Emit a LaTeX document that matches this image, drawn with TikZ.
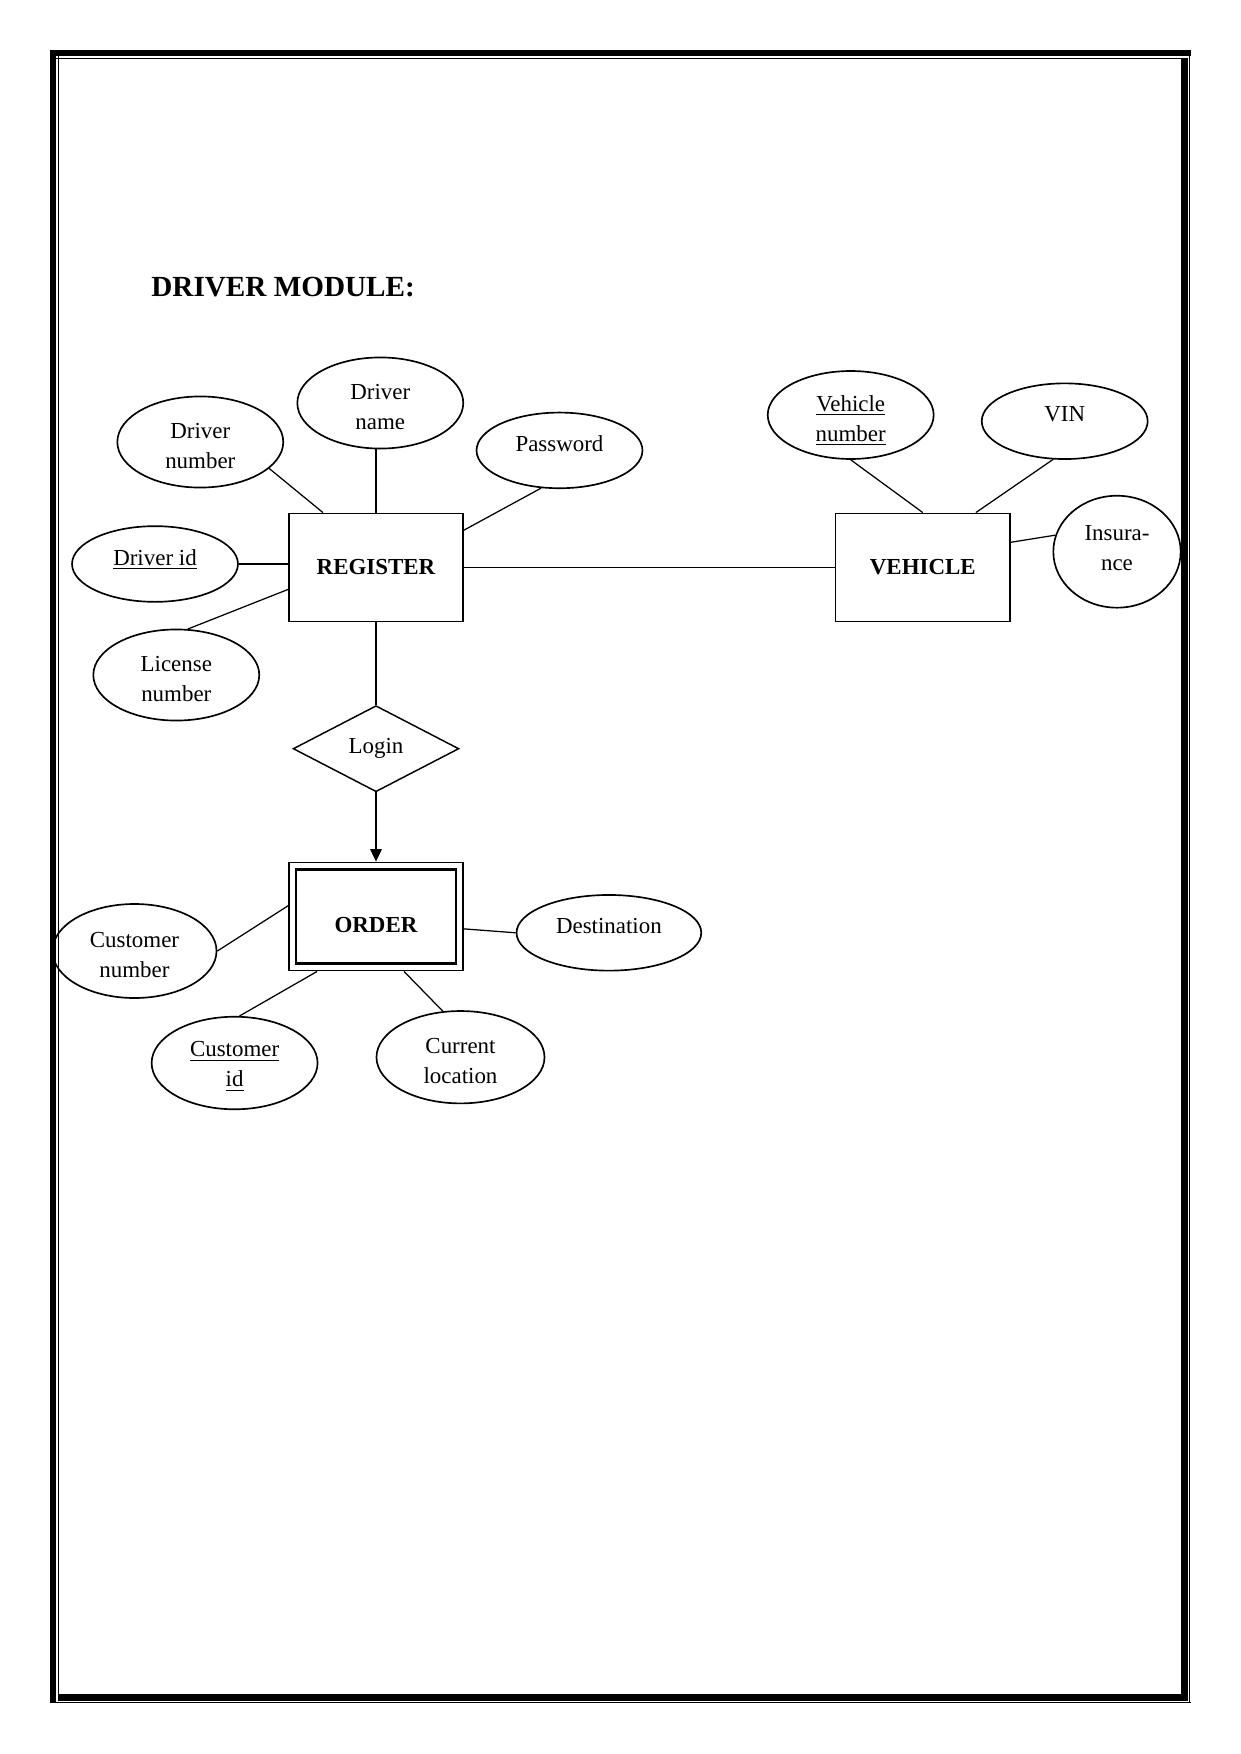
\documentclass[tikz,border=0pt]{standalone}
\usepackage{fontspec}
\setmainfont{Liberation Serif}
\usetikzlibrary{arrows.meta, shapes.geometric}
\tikzset{
	erent/.style={draw, line width=0.7pt, minimum width=83.6pt, minimum height=52pt,
		inner sep=0pt, font=\fontsize{11}{14.4}\selectfont\bfseries},
	erell/.style={draw, ellipse, line width=0.8pt, minimum width=79.6pt, minimum height=43.7pt,
		inner sep=0pt, align=center, font=\fontsize{11}{14.4}\selectfont},
	erattr/.style={erell, execute at begin node={\rule{0pt}{25.1pt}}},
	erattrs/.style={erell, minimum height=36.3pt, execute at begin node={\rule[-6.5pt]{0pt}{6.5pt}}},
	errel/.style={draw, diamond, line width=0.7pt, minimum width=79.5pt, minimum height=41.3pt,
		inner sep=0pt, font=\fontsize{11}{14.4}\selectfont},
	erline/.style={line width=0.6pt},
	erarr/.style={-{Triangle[length=6pt, width=5.6pt]}, line width=0.7pt}
}

\begin{document}
\begin{tikzpicture}[x=0.4797pt, y=-0.4797pt]
	\useasboundingbox (0,0) rectangle (1241,1754);
	\node[anchor=base west, inner sep=0pt, font=\fontsize{14}{17}\selectfont\bfseries] (title) at (151,296) {DRIVER MODULE:};

	% entities and relationship
	\node[erent] (register) at (376,567.5) {REGISTER};
	\node[erent] (vehicle) at (922.8,567.5) {VEHICLE};
	\node[errel] (login) at (376,748.7) {Login};
	\node[erent, execute at begin node={\rule{0pt}{15pt}}] (order) at (376,916.5) {ORDER};
	\draw[line width=1pt] ([shift={(3.8pt,-3.8pt)}]order.north west) rectangle ([shift={(-3.8pt,3.8pt)}]order.south east);

	% attributes
	\node[erattr] (dnum) at (200.3,442) {Driver\\number};
	\node[erattr] (dname) at (380.3,403) {Driver\\name};
	\node[erattrs] (did) at (155,564) {\underline{Driver id}};
	\node[erattr] (lic) at (176.3,675) {License\\number};
	\node[erattrs] (pwd) at (559.5,450.4) {Password};
	\node[erell, minimum height=42.2pt, execute at begin node={\rule{0pt}{27.3pt}}] (vnum) at (850.7,415) {\underline{Vehicle}\\\underline{number}};
	\node[erattrs] (vin) at (1064.7,421.2) {VIN};
	\node[erell, minimum width=61.1pt, minimum height=53.7pt,
		execute at begin node={\rule[-3.2pt]{0pt}{3.2pt}}] (ins) at (1117,551.7) {Insura-\\nce};
	\node[erattr, minimum width=78.7pt, minimum height=45.1pt] (cnum) at (134.5,951) {Customer\\number};
	\node[erattr, minimum height=44.4pt] (cid) at (234.6,1063) {\underline{Customer}\\\underline{id}};
	\node[erattr, minimum width=80.6pt, minimum height=44.3pt] (cloc) at (460.5,1057.2) {Current\\location};
	\node[erattrs, minimum width=88.6pt] (dest) at (608.9,932.8) {Destination};

	% connectors
	\draw[erline] (dnum.-21) -- (register.134);
	\draw[erline] (dname.south -| register.north) -- (register.north);
	\draw[erline, line width=0.9pt] (did.east) -- (did.east -| register.west);
	\draw[erline] (lic.76) -- (register.194);
	\draw[erline] (pwd.244) -- (register.23);
	\draw[erline, line width=0.9pt] (register.east) -- (vehicle.west);
	\draw[erline] (register.south) -- (login.north);
	\draw[erarr] (login.south) -- (order.north);
	\draw[erline] (vnum.south) -- (vehicle.north);
	\draw[erline] (vin.253) -- (vehicle.46);
	\draw[erline] (ins.165) -- (vehicle.16);
	\draw[erline] (cnum.east) -- (order.173);
	\draw[erline] (cid.84) -- (order.223);
	\draw[erline] (cloc.111) -- (order.-63);
	\draw[erline] (dest.west) -- (order.-8);

	% page border
	\fill (50,50) rectangle (1190.7,56);
	\fill (50,50) rectangle (56,1703.3);
	\fill (1181,58.3) rectangle (1187.7,1700.7);
	\fill (58.3,1694.3) rectangle (1187.7,1700.7);
	\draw[line width=0.5pt] (56,58.3) -- (1181,58.3);
	\draw[line width=0.5pt] (58.3,56) -- (58.3,1694.3);
	\draw[line width=0.5pt] (1189.5,50) -- (1189.5,1703.3);
	\draw[line width=0.5pt] (50,1702.7) -- (1190.7,1702.7);
\end{tikzpicture}
\end{document}
